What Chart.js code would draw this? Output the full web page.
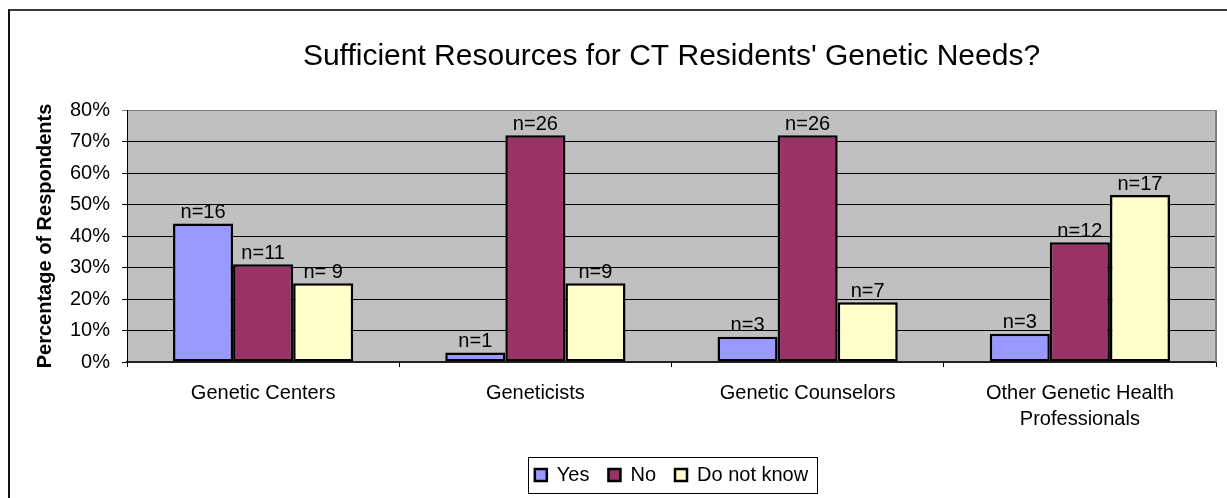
<!DOCTYPE html>
<html>
<head>
<meta charset="utf-8">
<title>Sufficient Resources for CT Residents' Genetic Needs?</title>
<script src="https://cdn.jsdelivr.net/npm/chart.js@4.4.1/dist/chart.umd.min.js"></script>
<style>
    html, body { margin: 0; padding: 0; background: #fff; overflow: hidden; }
    #frame {
        position: absolute; left: 8px; top: 9px; width: 1260px; height: 520px;
        border-left: 2px solid #111; border-top: 2px solid #3a3a3a;
    }
    #wrap { position: absolute; left: 0; top: 0; width: 1227px; height: 498px; }
</style>
</head>
<body>
<div id="frame"></div>
<div id="wrap"><canvas id="chart" width="1227" height="498"></canvas></div>
<script>
// data
const CATEGORIES   = ["Genetic Centers", "Geneticists", "Genetic Counselors", ["Other Genetic Health", "Professionals"]];
const YES          = [44, 3, 8, 9];
const NO           = [31, 72, 72, 38];
const DONT_KNOW    = [25, 25, 19, 53];
const YES_N        = ["n=16", "n=1", "n=3", "n=3"];
const NO_N         = ["n=11", "n=26", "n=26", "n=12"];
const DONT_KNOW_N  = ["n= 9", "n=9", "n=7", "n=17"];
const Y_MAX        = 80;
const Y_STEP       = 10;

const FONT = "Arial, 'Liberation Sans', sans-serif";
Chart.defaults.font.family = FONT;
Chart.defaults.color = "#000";

// grey plot area + grey right edge
const plotArea = {
    id: "plotArea",
    beforeDraw(chart) {
        const { ctx, chartArea: a } = chart;
        ctx.save();
        ctx.fillStyle = "#C0C0C0";
        ctx.fillRect(a.left, a.top, a.right - a.left, a.bottom - a.top);
        ctx.restore();
    },
    beforeDatasetsDraw(chart) {
        const { ctx, chartArea: a } = chart;
        ctx.save();
        ctx.strokeStyle = "#808080";
        ctx.lineWidth = 2;
        ctx.beginPath();
        ctx.moveTo(a.right, a.top);
        ctx.lineTo(a.right, a.bottom);
        ctx.stroke();
        ctx.restore();
    }
};

// "n=.." labels above each bar
const countLabels = {
    id: "countLabels",
    afterDatasetsDraw(chart) {
        const ctx = chart.ctx;
        ctx.save();
        ctx.font = `20px ${FONT}`;
        ctx.fillStyle = "#000";
        ctx.textAlign = "center";
        ctx.textBaseline = "bottom";
        chart.data.datasets.forEach((ds, i) => {
            chart.getDatasetMeta(i).data.forEach((bar, j) => {
                ctx.fillText(ds.counts[j], bar.x, bar.y - 1);
            });
        });
        ctx.restore();
    }
};

// frame around the legend
const legendFrame = {
    id: "legendFrame",
    afterDraw(chart) {
        const boxes = chart.legend?.legendHitBoxes;
        if (!boxes || !boxes.length) return;
        const left   = Math.min(...boxes.map(b => b.left)) - 7;
        const right  = Math.max(...boxes.map(b => b.left + b.width)) + 9;
        const top    = Math.min(...boxes.map(b => b.top)) - 8;
        const bottom = Math.max(...boxes.map(b => b.top + b.height)) + 8;
        const ctx = chart.ctx;
        ctx.save();
        ctx.strokeStyle = "#000";
        ctx.lineWidth = 1;
        ctx.strokeRect(Math.round(left) + 0.5, Math.round(top) + 0.5, Math.round(right - left), Math.round(bottom - top));
        ctx.restore();
    }
};

new Chart(document.getElementById("chart").getContext("2d"), {
    type: "bar",
    data: {
        labels: CATEGORIES,
        datasets: [
            { label: "Yes",         data: YES,       counts: YES_N,       backgroundColor: "#9999FF" },
            { label: "No",          data: NO,        counts: NO_N,        backgroundColor: "#993366" },
            { label: "Do not know", data: DONT_KNOW, counts: DONT_KNOW_N, backgroundColor: "#FFFFCC" }
        ].map(ds => ({
            ...ds,
            borderColor       : "#000",
            borderWidth       : 2.5,
            borderSkipped     : false,
            categoryPercentage: 0.662,
            barPercentage     : 1.0
        }))
    },
    options: {
        responsive: false,
        animation : false,
        devicePixelRatio: 1,
        layout: { padding: { left: 12, right: 11, top: 12, bottom: 3 } },
        plugins: {
            tooltip: { enabled: false },
            title: {
                display : true,
                fullSize: false,
                text    : "Sufficient Resources for CT Residents' Genetic Needs?",
                color   : "#000",
                font    : { size: 30, weight: "normal" },
                padding : { top: 27, bottom: 35 }
            },
            legend: {
                position: "bottom",
                fullSize: false,
                labels: {
                    boxWidth : 12,
                    boxHeight: 12,
                    padding  : 19,
                    color    : "#000",
                    font     : { size: 20 }
                }
            }
        },
        scales: {
            x: {
                afterFit: s => { s.height = 84; },
                grid  : { display: true, drawOnChartArea: false, drawTicks: true, tickLength: 5, color: "#000", offset: true },
                border: { display: true, color: "#222", width: 2 },
                ticks : { color: "#000", padding: 13, maxRotation: 0, autoSkip: false, font: { size: 20, lineHeight: 1.3 } }
            },
            y: {
                min: 0,
                max: Y_MAX,
                afterFit: s => { s.width = 115; },
                grid  : {
                    color     : c => (c.tick && c.tick.value === Y_MAX ? "#808080" : "#000"),
                    lineWidth : 1,
                    tickLength: 5
                },
                border: { display: true, color: "#000", width: 1 },
                ticks : {
                    stepSize: Y_STEP,
                    padding : 12,
                    color   : "#000",
                    font    : { size: 20 },
                    callback: v => `${v}%`
                },
                title: {
                    display: true,
                    text   : "Percentage of Respondents",
                    color  : "#000",
                    font   : { size: 20, weight: "bold" },
                    padding: { top: 21, bottom: 0 }
                }
            }
        }
    },
    plugins: [plotArea, countLabels, legendFrame]
});
</script>
</body>
</html>
